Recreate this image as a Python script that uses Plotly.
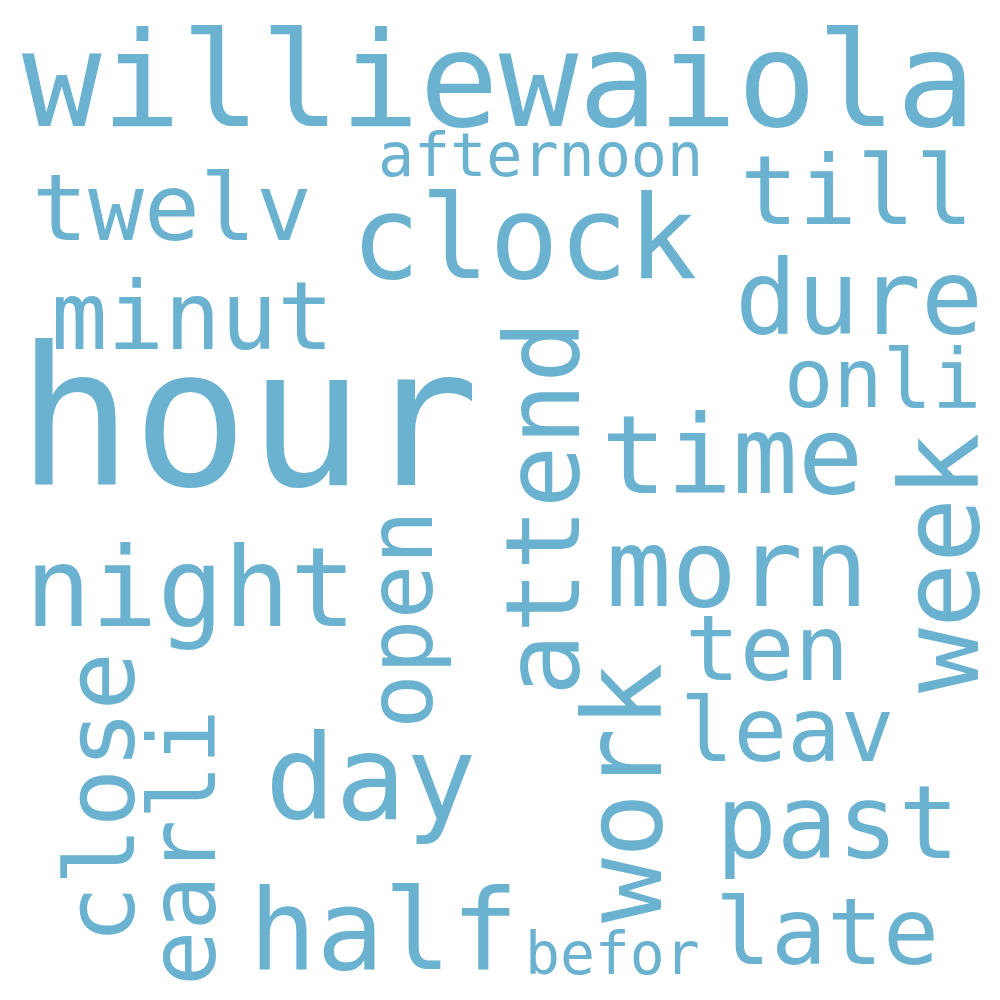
import plotly.graph_objects as go

words = ["williewaiola","hour","clock","twelv","afternoon","till","minut","dure","onli","time",
         "week","attend","morn","night","open","ten","work","leav","day","close","earli","past",
         "half","late","befor"]
cx = [491,240,516,164,532,849,184,851,874,724,932,535,729,182,392,759,615,779,362,92,175,829,376,819,604]
cy = [72,410,230,200,147,182,308,290,370,447,555,500,560,580,612,640,785,722,770,790,840,815,922,924,946]
sizes = [132,192,115,93,60,97,94,103,82,109,108,104,109,110,91,91,108,89,117,97,92,101,112,93,58]
angles = [0,0,0,0,0,0,0,0,0,0,-90,-90,0,0,-90,0,-90,0,0,-90,-90,0,0,0,0]

color = "#6ab2cf"
fig = go.Figure()
fig.add_trace(go.Scatter(x=[0, 1000], y=[0, 1000], mode="markers", marker=dict(opacity=0), hoverinfo="skip"))
for w, x, y, s, a in zip(words, cx, cy, sizes, angles):
    fig.add_annotation(x=x, y=y, text=w, showarrow=False, textangle=a,
                       font=dict(family="DejaVu Sans Mono", size=s, color=color),
                       xanchor="center", yanchor="middle")
fig.update_xaxes(range=[0, 1000], visible=False)
fig.update_yaxes(range=[1000, 0], visible=False)
fig.update_layout(width=1000, height=1000, margin=dict(l=0, r=0, t=0, b=0),
                  plot_bgcolor="white", paper_bgcolor="white", showlegend=False)
fig.write_html("out.html")
